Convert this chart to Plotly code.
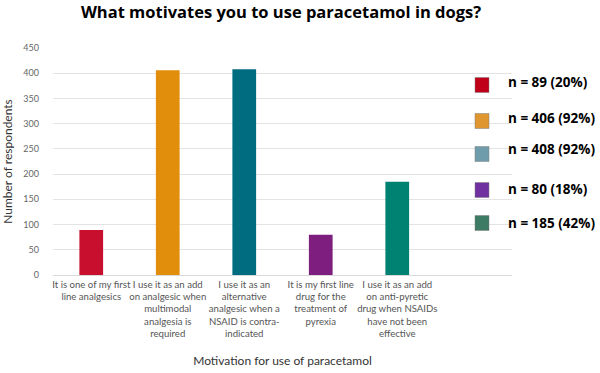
import plotly.graph_objects as go

categories = [
    "It is one of my first<br>line analgesics",
    "I use it as an add<br>on analgesic when<br>multimodal<br>analgesia is<br>required",
    "I use it as an<br>alternative<br>analgesic when a<br>NSAID is contra-<br>indicated",
    "It is my first line<br>drug for the<br>treatment of<br>pyrexia",
    "I use it as an add<br>on anti-pyretic<br>drug when NSAIDs<br>have not been<br>effective",
    "",
]
values = [89, 406, 408, 80, 185]
bar_colors = ["#C8102E", "#E08E0B", "#006C80", "#7E1E7E", "#008272"]
legend_labels = ["n = 89 (20%)", "n = 406 (92%)", "n = 408 (92%)", "n = 80 (18%)", "n = 185 (42%)"]
legend_colors = ["#C00018", "#E0962E", "#6E9CAA", "#7030A0", "#3E7B64"]
y_ticks = [0, 50, 100, 150, 200, 250, 300, 350, 400, 450]

positions = list(range(len(categories)))

fig = go.Figure()
fig.add_trace(go.Bar(
    x=positions[:len(values)],
    y=values,
    marker=dict(color=bar_colors, line=dict(width=0)),
    width=0.31,
    showlegend=False,
))

font_family = "Lato, Open Sans, sans-serif"
bold_family = "Open Sans, Lato, sans-serif"

L, R, T, B = 53, 512, 48, 275
PW, PH = R - L, B - T

fig.update_layout(
    width=600, height=373,
    paper_bgcolor="white", plot_bgcolor="white",
    margin=dict(l=L, r=600 - R, t=T, b=373 - B, autoexpand=False),
    title=dict(
        text="<b>What motivates you to use paracetamol in dogs?</b>",
        x=281 / 600, xanchor="center", y=1 - 12.5 / 373, yanchor="middle",
        font=dict(family=bold_family, size=16.5, color="black"),
    ),
    xaxis=dict(
        range=[-0.5, len(categories) - 0.5],
        tickmode="array", tickvals=positions, ticktext=categories,
        tickangle=0, automargin=False,
        tickfont=dict(family=font_family, size=9.6, color="#555555"),
        showgrid=False, showline=True, linecolor="#d9d9d9", linewidth=1,
        ticks="", zeroline=False,
        title=dict(text="Motivation for use of paracetamol",
                   font=dict(family=font_family, size=12, color="#333333"),
                   standoff=18),
    ),
    yaxis=dict(
        range=[0, 450], automargin=False,
        tickmode="array", tickvals=y_ticks,
        tickfont=dict(family=font_family, size=9, color="#666666"),
        showgrid=True, gridcolor="#e3e3e3", gridwidth=1,
        zeroline=False, showline=False, ticks="",
        ticklabelstandoff=13,
        title=dict(text="Number of respondents",
                   font=dict(family=font_family, size=12, color="#333333"),
                   standoff=11),
    ),
)

# Legend-like key on the right
legend_y = [85, 121, 154, 190, 223]
text_y = [82, 118, 149, 189, 223]
for i, lab in enumerate(legend_labels):
    cy = legend_y[i]
    fig.add_shape(
        type="rect", xref="paper", yref="paper",
        x0=(475 - L) / PW, x1=(489 - L) / PW,
        y0=(B - (cy + 7.5)) / PH, y1=(B - (cy - 7.5)) / PH,
        fillcolor=legend_colors[i], line=dict(color="#7f7f7f", width=0.5),
    )
    fig.add_annotation(
        xref="paper", yref="paper",
        x=(506 - L) / PW, y=(B - text_y[i]) / PH,
        text="<b>" + lab + "</b>", showarrow=False,
        xanchor="left", yanchor="middle",
        font=dict(family=bold_family, size=13.5, color="black"),
    )

fig.write_html(
    "out.html",
    config={"displayModeBar": False},
    post_script="document.body.style.margin='0';document.body.style.padding='0';document.body.style.overflow='hidden';",
)
